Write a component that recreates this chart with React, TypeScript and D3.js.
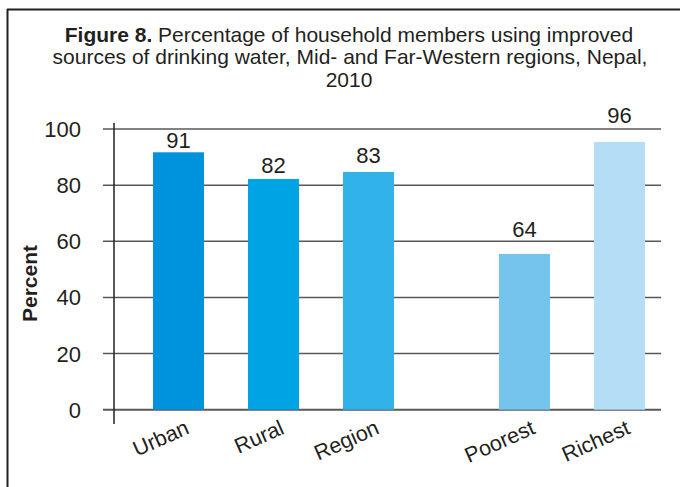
import React from "react";
import * as d3 from "d3";

const categories = ["Urban", "Rural", "Region", "Poorest", "Richest"];
const groups = [0, 0, 0, 1, 1];
const barValues = [91.7, 82.2, 84.7, 55.5, 95.4];
const labelTexts = ["91", "82", "83", "64", "96"];
const labelAt = [93.2, 84.2, 88.0, 61.6, 102.2];
const barColors = ["#0093dd", "#00a3e3", "#31b3ea", "#75c4ee", "#b3def5"];
const yTicks = [0, 20, 40, 60, 80, 100];
const titleBold = "Figure 8.";
const titleLines = [
  " Percentage of household members using improved",
  "sources of drinking water, Mid- and Far-Western regions, Nepal,",
  "2010",
];
const yLabel = "Percent";

const W = 680;
const H = 487;
const FONT = "'Liberation Sans', Arial, Helvetica, sans-serif";
const TEXT = "#231f20";

export default function App() {
  const y = d3.scaleLinear().domain([0, 100]).range([409.7, 129]);
  const xIdx = d3.scaleLinear().domain([0, 1]).range([178.5, 273.5]);
  const groupGap = 61;
  const barW = 51;
  const cx = (i: number) => xIdx(i) + groups[i] * groupGap;
  const gridX0 = 103;
  const gridX1 = 661;
  const axisX = 114;

  return (
    <svg
      width={W}
      height={H}
      style={{ position: "absolute", left: 0, top: 0, background: "#fff" }}
      fontFamily={FONT}
    >
      <rect x={0} y={0} width={W} height={H} fill="#fff" />
      {/* frame */}
      <line x1={7} y1={9.5} x2={W} y2={9.5} stroke={TEXT} strokeWidth={2} />
      <line x1={7.5} y1={9} x2={7.5} y2={H} stroke={TEXT} strokeWidth={2} />

      {/* title */}
      <text x={349} y={41.5} textAnchor="middle" fontSize={21} fill={TEXT}>
        <tspan fontWeight="bold">{titleBold}</tspan>
        <tspan>{titleLines[0]}</tspan>
      </text>
      <text x={350} y={64} textAnchor="middle" fontSize={21} fill={TEXT}>
        {titleLines[1]}
      </text>
      <text x={349} y={87} textAnchor="middle" fontSize={21} fill={TEXT}>
        {titleLines[2]}
      </text>

      {/* gridlines */}
      {yTicks.map((t) => (
        <line
          key={"g" + t}
          x1={gridX0}
          x2={gridX1}
          y1={y(t)}
          y2={y(t)}
          stroke="#5a5758"
          strokeWidth={t === 0 ? 2 : 1.5}
        />
      ))}
      {/* y tick labels */}
      {yTicks.map((t) => (
        <text
          key={"t" + t}
          x={81}
          y={y(t) + 8}
          textAnchor="end"
          fontSize={22}
          fill={TEXT}
        >
          {t}
        </text>
      ))}

      {/* bars */}
      {categories.map((c, i) => (
        <rect
          key={c}
          x={cx(i) - barW / 2}
          y={y(barValues[i])}
          width={barW}
          height={y(0) - y(barValues[i])}
          fill={barColors[i]}
        />
      ))}

      {/* y axis line */}
      <line x1={axisX} x2={axisX} y1={123} y2={424} stroke={TEXT} strokeWidth={1.5} />

      {/* value labels */}
      {categories.map((c, i) => (
        <text
          key={"l" + c}
          x={cx(i)}
          y={y(labelAt[i])}
          textAnchor="middle"
          fontSize={22}
          fill={TEXT}
        >
          {labelTexts[i]}
        </text>
      ))}

      {/* x labels */}
      {categories.map((c, i) => (
        <text
          key={"x" + c}
          transform={`translate(${cx(i) + 12},${433}) rotate(-24)`}
          textAnchor="end"
          fontSize={21.5}
          fill={TEXT}
        >
          {c}
        </text>
      ))}

      {/* y label */}
      <text
        transform={`translate(37,283.5) rotate(-90)`}
        textAnchor="middle"
        fontSize={21}
        fontWeight="bold"
        fill={TEXT}
      >
        {yLabel}
      </text>
    </svg>
  );
}
